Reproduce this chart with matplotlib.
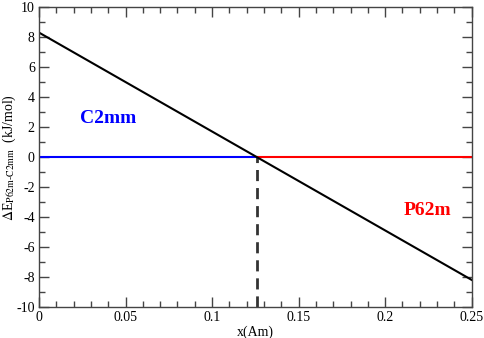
import matplotlib

matplotlib.use("Agg")
import matplotlib.pyplot as plt
from matplotlib.ticker import MultipleLocator, FuncFormatter

# Datos
x_line = [0.0, 0.25]
dE_line = [8.3, -8.2]
x_c2mm = [0.0, 0.1258]
x_p62m = [0.1258, 0.25]
y_zero = [0.0, 0.0]
x_cross = [0.1258, 0.1258]
y_cross = [-10.0, 0.0]

plt.rcParams["font.family"] = ["Liberation Serif", "DejaVu Serif"]
plt.rcParams["mathtext.fontset"] = "stix"

fig = plt.figure(figsize=(4.84, 3.38), dpi=100)
ax = fig.add_axes([0.0806, 0.092, 0.894, 0.887])

ax.plot(x_c2mm, y_zero, color="#0000ff", lw=1.5)
ax.plot(x_p62m, y_zero, color="#ff0000", lw=1.5)
ax.plot(x_cross, y_cross, color="#333333", lw=2, ls=(0, (4, 2.5)))
ax.plot(x_line, dE_line, color="black", lw=1.5)

ax.text(0.04, 2.6, "C2mm", color="#0000ff", fontsize=14, fontweight="bold",
        ha="center", va="center")
ax.text(0.2245, -3.6, "P62m", color="#ff0000", fontsize=14, fontweight="bold",
        ha="center", va="center")

ax.set_xlim(0, 0.25)
ax.set_ylim(-10, 10)
ax.xaxis.set_major_locator(MultipleLocator(0.05))
ax.xaxis.set_minor_locator(MultipleLocator(0.01))
ax.yaxis.set_major_locator(MultipleLocator(2))
ax.yaxis.set_minor_locator(MultipleLocator(1))
fmt = FuncFormatter(lambda v, p: f"{v:g}")
ax.xaxis.set_major_formatter(fmt)
ax.yaxis.set_major_formatter(fmt)

ax.tick_params(which="both", direction="in", top=True, right=True,
               labelsize=10, color="#444444", width=1)
ax.tick_params(which="major", length=7, pad=3)
ax.tick_params(which="minor", length=4)
for s in ax.spines.values():
    s.set_color("#444444")
    s.set_linewidth(1)

ax.set_xlabel("x(Am)", fontsize=10, labelpad=1)
ax.set_ylabel(r"$\Delta$E$_{\rm P62m\text{-}C2mm}$  (kJ/mol)", fontsize=10)
ax.yaxis.set_label_coords(-0.048, 0.5)

fig.savefig("out.png", dpi=100)
